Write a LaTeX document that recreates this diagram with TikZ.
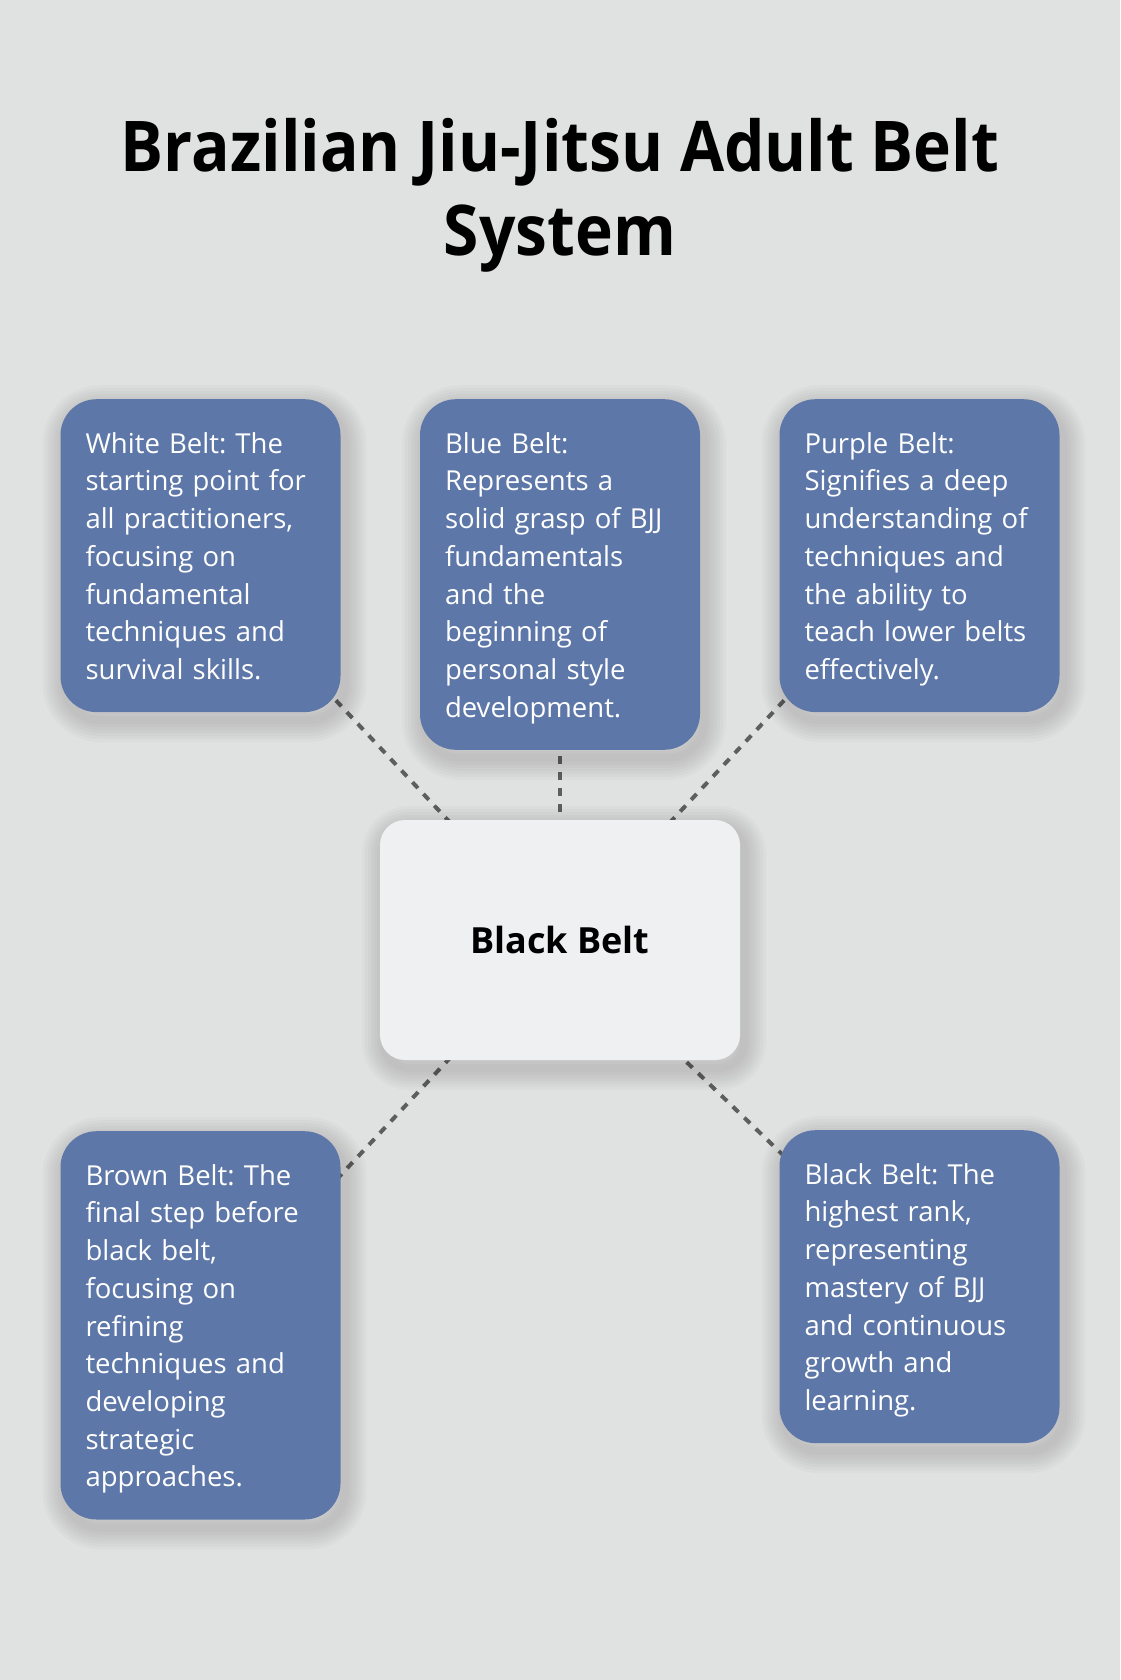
\documentclass[tikz,border=0pt]{standalone}
\usepackage{fontspec}
\setmainfont{Open Sans}
\newfontfamily\titlefont{Open Sans}[FakeStretch=0.915]
\usetikzlibrary{shadows}
\definecolor{bgcolor}{HTML}{E0E2E1}
\definecolor{beltblue}{HTML}{5D77A8}
\definecolor{corefill}{HTML}{EFF0F2}
\definecolor{dashgray}{HTML}{5E5E5E}
\pgfdeclarelayer{back}
\pgfdeclarelayer{links}
\pgfsetlayers{back,links,main}
\newcommand{\beltstrut}{\rule[-8.2pt]{0pt}{37.7pt}}
\frenchspacing
\tikzset{
	soft_layer/.style = {
		general shadow={draw=black, draw opacity=0.02, line width=#1, shadow xshift=4pt, shadow yshift=-8pt}
	},
	soft_shadow/.style = {
		soft_layer=44pt, soft_layer=38pt, soft_layer=32pt, soft_layer=26pt,
		soft_layer=20pt, soft_layer=14pt, soft_layer=8pt
	},
	node_title/.style = {
		align=center,
		inner sep=0pt,
		anchor=north,
		font=\titlefont\fontsize{70}{84}\selectfont\bfseries
	},
	node_belt/.style = {
		rectangle,
		rounded corners=36pt,
		fill=beltblue,
		text=white,
		text width=230pt,
		inner xsep=25pt,
		inner ysep=24.5pt,
		align=left,
		anchor=north,
		font=\fontsize{27.5}{37.7}\selectfont,
		execute at begin node=\beltstrut,
		execute at end node=\beltstrut,
		soft_shadow
	},
	node_core/.style = {
		rectangle,
		rounded corners=25pt,
		fill=corefill,
		text=black,
		minimum width=360pt,
		minimum height=240pt,
		font=\fontsize{36}{44}\selectfont\bfseries,
		soft_shadow
	},
	link_dash/.style = {
		draw=dashgray,
		line width=4pt,
		dash pattern=on 8pt off 8pt
	}
}
\begin{document}
\begin{tikzpicture}[x=1pt, y=-1pt]
\useasboundingbox (0,0) rectangle (1120,1680);
\begin{pgfonlayer}{back}
\fill[bgcolor] (0,0) rectangle (1120,1680);
\end{pgfonlayer}

\node [node_title] (title) at (560,113) {\strut Brazilian Jiu-Jitsu Adult Belt\\System\strut};

\node [node_core] (black) at (560,940) {Black Belt};

\node [node_belt] (white) at (200.5,399) {White Belt: The\\starting point for\\all practitioners,\\focusing on\\fundamental\\techniques and\\survival skills.};
\node [node_belt] (blue) at (560,399) {Blue Belt:\\Represents a\\solid grasp of BJJ\\fundamentals\\and the\\beginning of\\personal style\\development.};
\node [node_belt] (purple) at (919.5,399) {Purple Belt:\\Signifies a deep\\understanding of\\techniques and\\the ability to\\teach lower belts\\effectively.};
\node [node_belt] (brown) at (200.5,1131) {Brown Belt: The\\final step before\\black belt,\\focusing on\\refining\\techniques and\\developing\\strategic\\approaches.};
\node [node_belt] (master) at (919.5,1130) {Black Belt: The\\highest rank,\\representing\\mastery of BJJ\\and continuous\\growth and\\learning.};

% dashed links, drawn under the boxes
\begin{pgfonlayer}{links}
\foreach \belt in {white, blue, purple, brown, master}
	\draw [link_dash] (black.center) -- (\belt.center);
\end{pgfonlayer}
\end{tikzpicture}
\end{document}
